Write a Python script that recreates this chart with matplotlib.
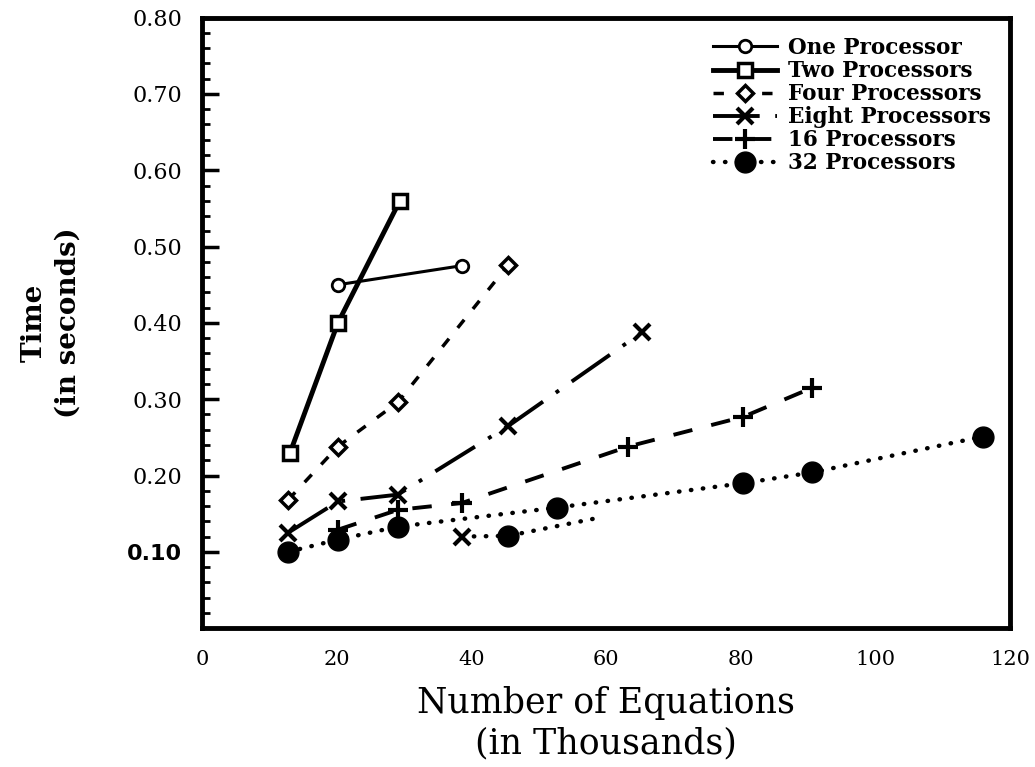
import matplotlib
matplotlib.use('Agg')
import matplotlib.pyplot as plt
from matplotlib.ticker import MultipleLocator

# problem size (thousands of equations) vs. solve time (seconds)
one_x = [20.2, 38.6]
one_t = [0.45, 0.475]
two_x = [13.1, 20.2, 29.4]
two_t = [0.23, 0.40, 0.56]
four_x = [12.8, 20.2, 29.1, 45.5]
four_t = [0.168, 0.238, 0.296, 0.476]
eight_x = [12.8, 20.2, 29.1, 45.5, 65.4]
eight_t = [0.125, 0.166, 0.175, 0.265, 0.388]
p16_x = [20.2, 29.1, 38.6, 63.3, 80.4, 90.6]
p16_t = [0.129, 0.155, 0.164, 0.238, 0.277, 0.315]
p32_x = [12.8, 20.2, 29.1, 52.7, 80.4, 90.6, 115.9]
p32_t = [0.100, 0.116, 0.133, 0.158, 0.190, 0.204, 0.251]
# short second run at 32 processors
p32b_x = [38.6, 45.5, 59.1]
p32b_t = [0.120, 0.121, 0.145]

yticks = [0.1, 0.2, 0.3, 0.4, 0.5, 0.6, 0.7, 0.8]
ytick_labels = ['0.10', '0.20', '0.30', '0.40', '0.50', '0.60', '0.70', '0.80']
xticks = [0, 20, 40, 60, 80, 100, 120]

serif = 'DejaVu Serif'

fig = plt.figure(figsize=(10.35, 7.67), dpi=100)
ax = fig.add_axes([0.195, 0.181, 0.781, 0.796])

ax.plot(one_x, one_t, color='black', lw=2.2, ls='-', marker='o', ms=9,
        mfc='white', mew=2, label='One Processor')
ax.plot(two_x, two_t, color='black', lw=3.5, ls='-', marker='s', ms=10,
        mfc='white', mew=2.5, label='Two Processors')
ax.plot(four_x, four_t, color='black', lw=2.5, ls=(0, (3, 4)), marker='D', ms=8,
        mfc='white', mew=2.5, label='Four Processors')
ax.plot(eight_x, eight_t, color='black', lw=2.8, ls=(0, (12, 4, 1, 4)), marker='x', ms=12,
        mew=3, label='Eight Processors')
ax.plot(p16_x, p16_t, color='black', lw=2.8, ls=(0, (5, 5)), marker='+', ms=14,
        mew=3, label='16 Processors')
ax.plot(p32_x, p32_t, color='black', lw=3.2, ls=(0, (0.1, 2.6)), dash_capstyle='round',
        marker='o', ms=15, mfc='black', label='32 Processors')
ax.plot(p32b_x, p32b_t, color='black', lw=3.2, ls=(0, (0.1, 2.6)), dash_capstyle='round',
        marker='o', ms=15, markevery=[1], label='_nolegend_')
ax.plot(p32b_x[:1], p32b_t[:1], ls='none', color='black', marker='x', ms=12, mew=3,
        label='_nolegend_')

ax.set_xlim(0, 120)
ax.set_ylim(0, 0.8)
ax.set_xticks(xticks)
ax.set_xticklabels([str(v) for v in xticks], fontsize=15, family=serif)
ax.set_yticks(yticks)
ax.set_yticklabels(ytick_labels, fontsize=16, family=serif)
ax.yaxis.set_minor_locator(MultipleLocator(0.02))
ax.tick_params(axis='y', which='major', direction='in', length=12, width=2.5, pad=14)
ax.tick_params(axis='y', which='minor', direction='in', length=6, width=2)
ax.tick_params(axis='x', which='both', length=0, pad=16)
ax.yaxis.get_ticklabels()[0].set_fontweight('bold')
ax.yaxis.get_ticklabels()[0].set_family('DejaVu Sans')

for side in ['left', 'right', 'top', 'bottom']:
    ax.spines[side].set_linewidth(3.5)

ax.set_xlabel('Number of Equations\n(in Thousands)', fontsize=25, family=serif,
              linespacing=1.25, labelpad=12)
ax.set_ylabel('Time\n(in seconds)', fontsize=20, family=serif, fontweight='bold',
              linespacing=1.3, labelpad=33)

leg = ax.legend(loc='upper right', frameon=False, handlelength=3.0, handletextpad=0.5,
                labelspacing=0.05, borderaxespad=0.5,
                prop={'family': serif, 'weight': 'bold', 'size': 15.5})

fig.savefig('out.png', dpi=100)
